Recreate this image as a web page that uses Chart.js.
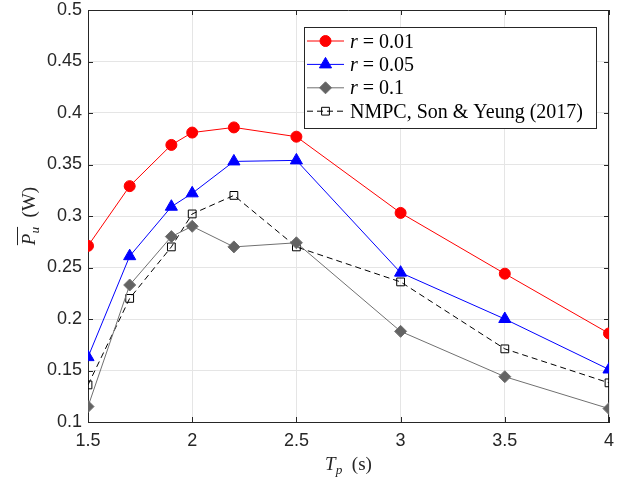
<!DOCTYPE html>
<html>
<head>
<meta charset="utf-8">
<script src="https://cdn.jsdelivr.net/npm/chart.js@4.4.1/dist/chart.umd.min.js"></script>
<style>
  html, body { margin: 0; padding: 0; background: #fff; }
  #wrap { width: 617px; height: 483px; }
</style>
</head>
<body>
<div id="wrap"><canvas id="power-chart" width="617" height="483"></canvas></div>
<script>
//Data
const periods = [1.5, 1.7, 1.9, 2.0, 2.2, 2.5, 3.0, 3.5, 4.0];
const power001 = [0.271, 0.329, 0.369, 0.381, 0.386, 0.377, 0.303, 0.244, 0.186];
const power005 = [0.163, 0.261, 0.309, 0.322, 0.353, 0.354, 0.245, 0.200, 0.151];
const power01 = [0.115, 0.233, 0.280, 0.290, 0.270, 0.274, 0.188, 0.144, 0.113];
const powerNmpc = [0.136, 0.220, 0.270, 0.302, 0.320, 0.270, 0.236, 0.171, 0.138];

const legendNames = ["0.01", "0.05", "0.1", "NMPC, Son & Yeung (2017)"];

const AXIS = "#262626";
const SERIF = "'Liberation Serif', 'DejaVu Serif', serif";

function toPoints(values) {
  return values.map((v, i) => ({ x: periods[i], y: v }));
}

const series = [
  { data: power001, color: "#ff0000", fill: "#ff0000", style: "circle", radius: 5.5, dash: [] },
  { data: power005, color: "#0000ff", fill: "#0000ff", style: "triangle", radius: 7, dash: [] },
  { data: power01, color: "#707070", fill: "#636363", style: "rectRot", radius: 6, dash: [] },
  { data: powerNmpc, color: "#000000", fill: "rgba(0,0,0,0)", style: "rect", radius: 5.5, dash: [6, 4] },
];

//Draws text made from parts (italic / subscript)
function drawParts(ctx, parts, x, y, size, align) {
  let widths = parts.map(p => {
    ctx.font = (p.italic ? "italic " : "") + (p.sub ? size * 0.7 : size) + "px " + SERIF;
    return ctx.measureText(p.text).width;
  });
  let total = widths.reduce((a, b) => a + b, 0);
  let cx = align === "center" ? x - total / 2 : x;
  let spans = [];
  parts.forEach((p, i) => {
    ctx.font = (p.italic ? "italic " : "") + (p.sub ? size * 0.7 : size) + "px " + SERIF;
    ctx.fillText(p.text, cx, p.sub ? y + size * 0.22 : y);
    spans.push([cx, cx + widths[i]]);
    cx += widths[i];
  });
  return spans;
}

const framePlugin = {
  id: "frame",
  beforeDatasetsDraw(chart) {
    const { ctx, chartArea: a, scales } = chart;
    ctx.save();
    ctx.strokeStyle = AXIS;
    ctx.lineWidth = 1;
    ctx.beginPath();
    //top and right edges of the box
    ctx.moveTo(a.left, a.top + 0.5);
    ctx.lineTo(a.right, a.top + 0.5);
    ctx.moveTo(a.right - 0.5, a.top);
    ctx.lineTo(a.right - 0.5, a.bottom);
    //inward tick marks
    scales.y.ticks.forEach(t => {
      let py = Math.round(scales.y.getPixelForValue(t.value)) + 0.5;
      ctx.moveTo(a.left, py); ctx.lineTo(a.left + 5, py);
      ctx.moveTo(a.right, py); ctx.lineTo(a.right - 5, py);
    });
    scales.x.ticks.forEach(t => {
      let px = Math.round(scales.x.getPixelForValue(t.value)) + 0.5;
      ctx.moveTo(px, a.bottom); ctx.lineTo(px, a.bottom - 5);
      ctx.moveTo(px, a.top); ctx.lineTo(px, a.top + 5);
    });
    ctx.stroke();
    ctx.restore();
  },
  afterDraw(chart) {
    const { ctx, chartArea: a } = chart;
    ctx.save();
    ctx.fillStyle = AXIS;
    ctx.textBaseline = "alphabetic";

    //x title
    drawParts(ctx, [
      { text: "T", italic: true },
      { text: "p", italic: true, sub: true },
      { text: "  (s)" },
    ], (a.left + a.right) / 2, 470, 19, "center");

    //y title, rotated
    ctx.save();
    ctx.translate(35, (a.top + a.bottom) / 2);
    ctx.rotate(-Math.PI / 2);
    let spans = drawParts(ctx, [
      { text: "P", italic: true },
      { text: "u", italic: true, sub: true },
      { text: "  (W)" },
    ], 0, 0, 19, "center");
    ctx.strokeStyle = AXIS;
    ctx.lineWidth = 1;
    ctx.beginPath();
    ctx.moveTo(spans[0][0], -17.5);
    ctx.lineTo(spans[1][1], -17.5);
    ctx.stroke();
    ctx.restore();

    //legend
    const box = { x: 304, y: 27, w: 292, h: 101 };
    ctx.fillStyle = "#ffffff";
    ctx.fillRect(box.x, box.y, box.w, box.h);
    ctx.strokeStyle = AXIS;
    ctx.strokeRect(box.x + 0.5, box.y + 0.5, box.w, box.h);
    series.forEach((s, i) => {
      let cy = 41 + i * 23.4;
      ctx.strokeStyle = s.color;
      ctx.lineWidth = 1;
      ctx.setLineDash(s.dash);
      ctx.beginPath();
      ctx.moveTo(307, cy);
      ctx.lineTo(344, cy);
      ctx.stroke();
      ctx.setLineDash([]);
      ctx.fillStyle = s.fill;
      Chart.helpers.drawPoint(ctx, { pointStyle: s.style, radius: s.radius, rotation: 0, borderWidth: 1 }, 325.5, cy);
      ctx.fillStyle = "#000";
      let parts = i < 3
        ? [{ text: "r", italic: true }, { text: " = " + legendNames[i] }]
        : [{ text: legendNames[i] }];
      drawParts(ctx, parts, 350, cy + 6.5, 20, "left");
    });
    ctx.restore();
  }
};

const context = document.getElementById("power-chart").getContext("2d");
const chart = new Chart(context, {
  type: "line",
  data: {
    datasets: series.map((s, i) => ({
      label: i < 3 ? "r = " + legendNames[i] : legendNames[i],
      data: toPoints(s.data),
      borderColor: s.color,
      borderWidth: 1,
      borderDash: s.dash,
      backgroundColor: s.fill,
      pointBackgroundColor: s.fill,
      pointBorderColor: s.color,
      pointBorderWidth: 1,
      pointStyle: s.style,
      pointRadius: s.radius,
      tension: 0,
      fill: false,
    })),
  },
  options: {
    responsive: false,
    animation: false,
    layout: { padding: { top: 10, right: 4, left: 0, bottom: 0 } },
    plugins: { legend: { display: false }, tooltip: { enabled: false } },
    scales: {
      x: {
        type: "linear",
        min: 1.5,
        max: 4,
        afterFit: scale => {
          scale.height = 61;
          scale.paddingLeft = 0;
          scale.paddingRight = 0;
        },
        ticks: {
          stepSize: 0.5,
          color: AXIS,
          padding: 8,
          font: { family: "'Liberation Sans', Arial, sans-serif", size: 18 },
          callback: v => String(+v.toFixed(2)),
        },
        grid: { color: "#e5e5e5", drawTicks: false },
        border: { color: AXIS },
      },
      y: {
        min: 0.1,
        max: 0.5,
        afterFit: scale => {
          scale.width = 88;
          scale.paddingTop = 0;
          scale.paddingBottom = 0;
        },
        ticks: {
          stepSize: 0.05,
          color: AXIS,
          padding: 6,
          font: { family: "'Liberation Sans', Arial, sans-serif", size: 18 },
          callback: v => String(+v.toFixed(2)),
        },
        grid: { color: "#e5e5e5", drawTicks: false },
        border: { color: AXIS },
      },
    },
  },
  plugins: [framePlugin],
});
</script>
</body>
</html>
